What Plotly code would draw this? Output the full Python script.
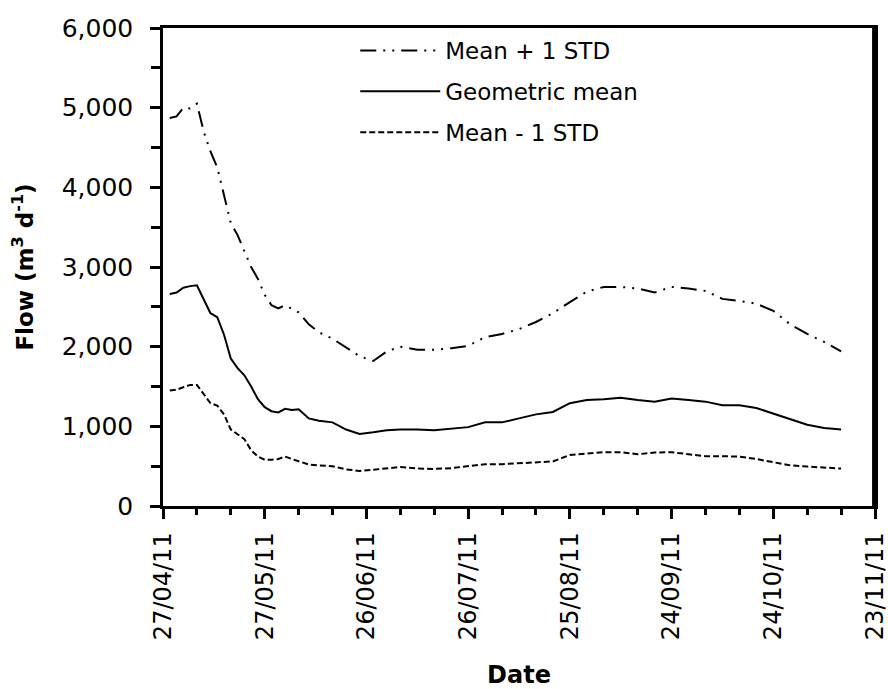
import plotly.graph_objects as go

dates = ["2011-04-29","2011-05-01","2011-05-03","2011-05-05","2011-05-07","2011-05-09","2011-05-11",
         "2011-05-13","2011-05-15","2011-05-17","2011-05-19","2011-05-21","2011-05-23","2011-05-25",
         "2011-05-27","2011-05-29","2011-05-31","2011-06-02","2011-06-04","2011-06-06","2011-06-09",
         "2011-06-12","2011-06-16","2011-06-20","2011-06-24","2011-06-28","2011-07-02","2011-07-06",
         "2011-07-11","2011-07-16","2011-07-21","2011-07-26","2011-07-31","2011-08-05","2011-08-10",
         "2011-08-15","2011-08-20","2011-08-25","2011-08-30","2011-09-04","2011-09-09","2011-09-14",
         "2011-09-19","2011-09-24","2011-09-29","2011-10-04","2011-10-09","2011-10-14","2011-10-19",
         "2011-10-24","2011-10-29","2011-11-03","2011-11-08","2011-11-13"]

geo_mean = [2660,2680,2740,2760,2770,2600,2420,2370,2150,1850,1730,1640,1500,1340,1240,1190,1175,
            1220,1205,1215,1100,1070,1050,960,905,925,950,960,960,950,970,990,1050,1050,1100,1150,
            1180,1290,1330,1340,1360,1330,1310,1350,1330,1310,1265,1265,1230,1160,1090,1020,980,960]

mean_plus = [4870,4890,5000,4990,5050,4700,4450,4250,3900,3550,3400,3200,3000,2850,2650,2520,2480,
             2520,2470,2430,2280,2180,2100,1990,1880,1820,1940,2000,1960,1960,1980,2010,2120,2160,
             2220,2310,2420,2560,2690,2750,2750,2730,2680,2750,2730,2700,2600,2575,2540,2450,2280,
             2160,2060,1940]

mean_minus = [1450,1460,1490,1520,1520,1400,1290,1260,1150,960,900,840,700,620,580,580,590,620,590,
              560,520,510,500,460,440,455,475,490,470,465,475,500,525,525,535,550,560,640,660,675,
              675,650,670,675,650,625,625,620,590,550,510,495,485,470]

tick_dates = ["2011-04-27","2011-05-27","2011-06-26","2011-07-26","2011-08-25","2011-09-24",
              "2011-10-24","2011-11-23"]
tick_labels = ["27/04/11","27/05/11","26/06/11","26/07/11","25/08/11","24/09/11","24/10/11","23/11/11"]

y_ticks = [0, 1000, 2000, 3000, 4000, 5000, 6000]
y_labels = ["0", "1,000", "2,000", "3,000", "4,000", "5,000", "6,000"]

FONT = "DejaVu Sans, Liberation Sans, Arial, sans-serif"

fig = go.Figure()
fig.add_trace(go.Scatter(x=dates, y=mean_plus, mode="lines", name="Mean + 1 STD", legendgroup="a",
                         line=dict(color="black", width=2, dash="16px,7px,2px,7px,2px,7px")))
fig.add_trace(go.Scatter(x=dates, y=geo_mean, mode="lines", name="Geometric mean", legendgroup="b",
                         line=dict(color="black", width=2)))
fig.add_trace(go.Scatter(x=dates, y=mean_minus, mode="lines", name="Mean - 1 STD", legendgroup="c",
                         line=dict(color="black", width=2, dash="6px,3px")))

# right edge of the plot frame
fig.add_shape(type="line", xref="paper", yref="paper", x0=0.998, x1=0.998, y0=0, y1=1,
              line=dict(color="black", width=3), layer="above")

fig.update_layout(
    width=888, height=689,
    margin=dict(l=163, r=13, t=28, b=183),
    paper_bgcolor="white", plot_bgcolor="white",
    font=dict(family=FONT, color="black", size=24),
    showlegend=True,
    legend=dict(x=0.27, y=0.998, xanchor="left", yanchor="top", bgcolor="rgba(0,0,0,0)",
                font=dict(size=23), itemwidth=80, tracegroupgap=8),
    xaxis=dict(
        type="date", automargin=False,
        range=["2011-04-27", "2011-11-23"],
        tickmode="array", tickvals=tick_dates, ticktext=tick_labels,
        tickangle=-90, tickfont=dict(size=24), ticklabelstandoff=4,
        ticklabeloverflow="allow",
        ticks="outside", ticklen=10, tickwidth=2.5, tickcolor="black",
        minor=dict(dtick=10 * 86400000, tick0="2011-04-27", ticks="outside", ticklen=6,
                   tickwidth=2.5, tickcolor="black"),
        showline=True, linecolor="black", linewidth=2.5, mirror=True,
        showgrid=False, zeroline=False,
        title=dict(text="<b>Date</b>", font=dict(size=24), standoff=34),
    ),
    yaxis=dict(
        automargin=False,
        range=[0, 6000], tickmode="array", tickvals=y_ticks, ticktext=y_labels,
        tickfont=dict(size=25), ticklabelstandoff=12,
        ticklabeloverflow="allow",
        ticks="outside", ticklen=10, tickwidth=2.5, tickcolor="black",
        minor=dict(dtick=500, ticks="outside", ticklen=9, tickwidth=2.5, tickcolor="black"),
        showline=True, linecolor="black", linewidth=2.5, mirror=True,
        showgrid=False, zeroline=False,
        title=dict(text="<b>Flow (m<sup>3</sup> d<sup>-1</sup>)</b>", font=dict(size=23), standoff=22),
    ),
)

fig.write_html("out.html")
